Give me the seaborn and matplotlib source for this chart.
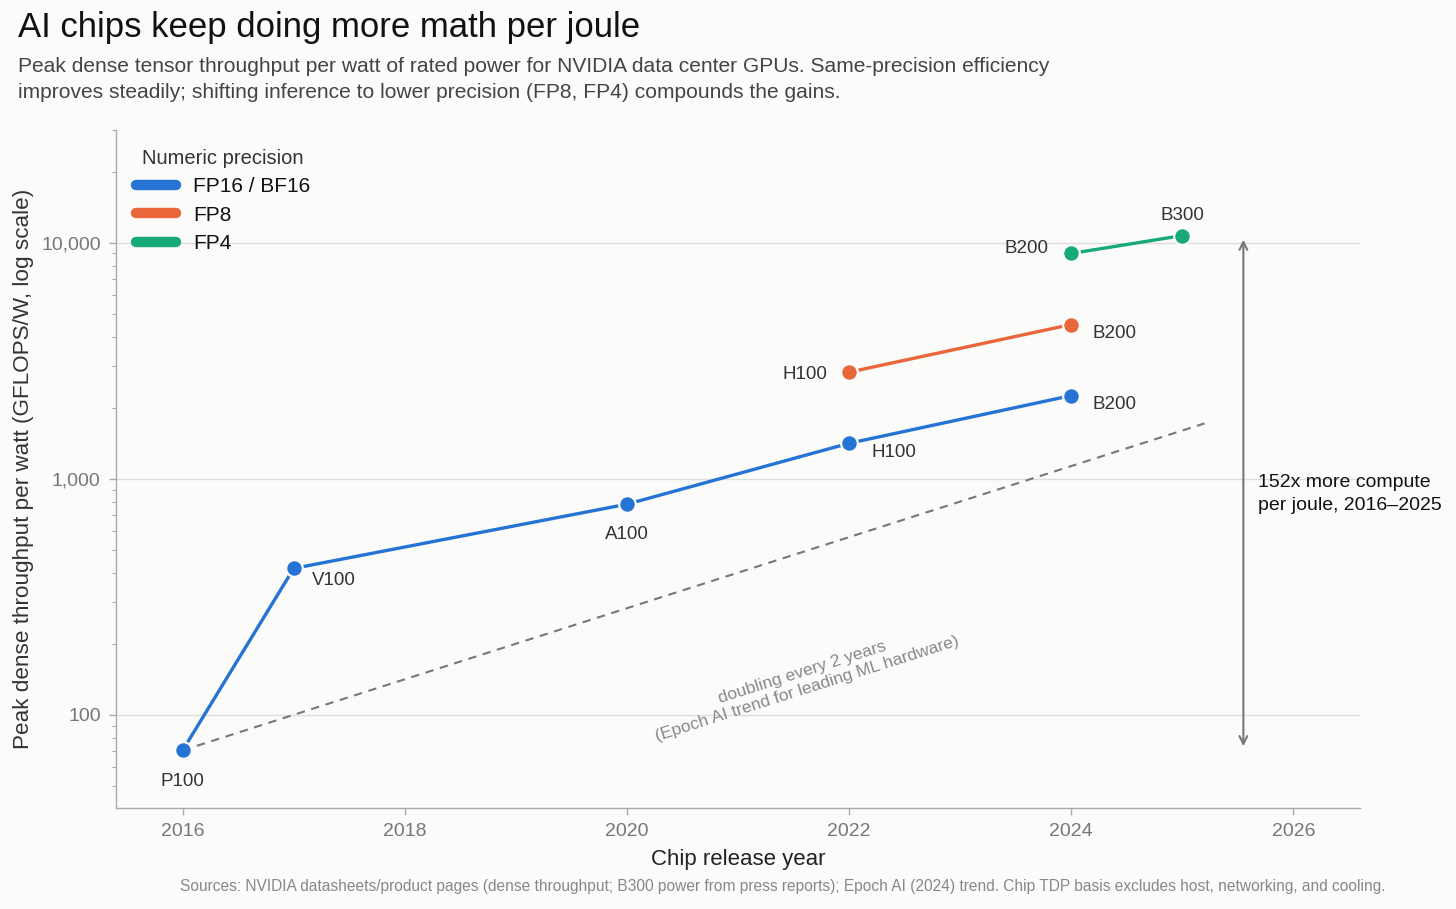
import numpy as np
import pandas as pd
import seaborn as sns
import matplotlib
matplotlib.use("Agg")
import matplotlib.pyplot as plt
from matplotlib.lines import Line2D
import matplotlib.ticker as mticker

# ---------------- data ----------------
precisions = ["FP16 / BF16", "FP8", "FP4"]

years_fp16 = [2016, 2017, 2020, 2022, 2024]
chips_fp16 = ["P100", "V100", "A100", "H100", "B200"]
vals_fp16 = [70.7, 417, 780, 1413, 2250]

years_fp8 = [2022, 2024]
chips_fp8 = ["H100", "B200"]
vals_fp8 = [2827, 4500]

years_fp4 = [2024, 2025]
chips_fp4 = ["B200", "B300"]
vals_fp4 = [9000, 10714]

trend_years = [2016, 2025.2]
trend_vals = [70.7, 1715]

x_ticks = [2016, 2018, 2020, 2022, 2024, 2026]
y_ticks = [100, 1000, 10000]
y_tick_labels = ["100", "1,000", "10,000"]

# ---------------- style ----------------
BG = "#fbfbf9"
colors = ["#2573d5", "#e9653a", "#17a978"]
sns.set_theme(style="white")
plt.rcParams["font.family"] = ["Liberation Sans", "DejaVu Sans"]

df = pd.concat([
    pd.DataFrame({"year": years_fp16, "value": vals_fp16, "chip": chips_fp16, "precision": precisions[0]}),
    pd.DataFrame({"year": years_fp8, "value": vals_fp8, "chip": chips_fp8, "precision": precisions[1]}),
    pd.DataFrame({"year": years_fp4, "value": vals_fp4, "chip": chips_fp4, "precision": precisions[2]}),
], ignore_index=True)

fig = plt.figure(figsize=(14.56, 9.09), dpi=100, facecolor=BG)
ax = fig.add_axes([116/1456, 1-808/909, (1360-116)/1456, (808-130)/909])
ax.set_facecolor(BG)

# trend line
ax.plot(trend_years, trend_vals, ls=(0, (4, 3.2)), color="#777777", lw=1.5, zorder=2)

sns.lineplot(data=df, x="year", y="value", hue="precision", hue_order=precisions,
             palette=colors, marker="o", markersize=12, markeredgecolor=BG,
             markeredgewidth=1.6, linewidth=2.4, legend=False, ax=ax, zorder=3,
             sort=True, estimator=None)

ax.set_yscale("log")
ax.set_xlim(2015.4, 2026.6)
ax.set_ylim(40.3, 30000)

# chip labels (offsets in pixels)
label_style = {
    ("FP16 / BF16", "P100"): (0, -31, "center"),
    ("FP16 / BF16", "V100"): (18, -12, "left"),
    ("FP16 / BF16", "A100"): (0, -30, "center"),
    ("FP16 / BF16", "H100"): (22, -9, "left"),
    ("FP16 / BF16", "B200"): (21, -9, "left"),
    ("FP8", "H100"): (-22, -2, "right"),
    ("FP8", "B200"): (21, -9, "left"),
    ("FP4", "B200"): (-23, 5, "right"),
    ("FP4", "B300"): (0, 20, "center"),
}
for _, r in df.iterrows():
    dx, dy, ha = label_style[(r["precision"], r["chip"])]
    ax.annotate(r["chip"], (r["year"], r["value"]), xytext=(dx, dy),
                textcoords="offset pixels", ha=ha, va="center",
                fontsize=13.5, color="#333333")

# trend annotation
ax.text(2021.6, 140, "doubling every 2 years\n(Epoch AI trend for leading ML hardware)",
        rotation=17.6, ha="center", va="center", fontsize=12.5, color="#888888",
        multialignment="center", rotation_mode="anchor")

# gain arrow
ax.annotate("", xy=(2025.55, vals_fp4[-1]), xytext=(2025.55, vals_fp16[0]),
            arrowprops=dict(arrowstyle="<->", color="#777777", lw=1.5,
                            shrinkA=3, shrinkB=3, mutation_scale=14))
ratio = vals_fp4[-1] / vals_fp16[0]
ax.text(2025.68, 862, f"{ratio:.0f}x more compute\nper joule, 2016\u20132025",
        ha="left", va="center", fontsize=14, color="#111111", linespacing=1.4)

# axes styling
ax.set_xticks(x_ticks)
ax.set_xticklabels([str(t) for t in x_ticks])
ax.set_yticks(y_ticks)
ax.set_yticklabels(y_tick_labels)
ax.yaxis.set_minor_locator(mticker.LogLocator(base=10, subs=np.arange(2, 10)))
ax.yaxis.set_minor_formatter(mticker.NullFormatter())
ax.tick_params(axis="both", which="major", length=5, width=1, color="#aaaaaa",
               labelsize=14, labelcolor="#777777", pad=6)
ax.tick_params(axis="y", which="minor", length=3, width=0.8, color="#aaaaaa", left=True)
ax.tick_params(axis="x", bottom=True)
ax.tick_params(axis="y", left=True)
ax.grid(False)
ax.yaxis.grid(True, which="major", color="#dddddd", lw=1)
ax.set_axisbelow(True)
for s in ["top", "right"]:
    ax.spines[s].set_visible(False)
for s in ["left", "bottom"]:
    ax.spines[s].set_color("#aaaaaa")
    ax.spines[s].set_linewidth(1)

ax.set_xlabel("Chip release year", fontsize=16, color="#222222", labelpad=6)
ax.set_ylabel("Peak dense throughput per watt (GFLOPS/W, log scale)", fontsize=16.2,
              color="#333333", labelpad=5)

# legend
handles = [Line2D([0], [0], color=c, lw=7.5, solid_capstyle="round") for c in colors]
leg = ax.legend(handles, precisions, title="Numeric precision", loc="upper left",
                bbox_to_anchor=(0.004, 0.993), frameon=False, fontsize=15,
                title_fontsize=14.5, handlelength=1.95, handletextpad=0.8,
                labelspacing=0.44, borderaxespad=0.3)
leg.get_title().set_color("#333333")
for t in leg.get_texts():
    t.set_color("#111111")

# titles and footer
fig.text(18/1456, 1-28/909, "AI chips keep doing more math per joule", fontsize=25,
         color="#111111", ha="left", va="center")
fig.text(18/1456, 1-67/909, "Peak dense tensor throughput per watt of rated power for NVIDIA data center GPUs. Same-precision efficiency",
         fontsize=15.1, color="#444444", ha="left", va="center")
fig.text(18/1456, 1-93/909, "improves steadily; shifting inference to lower precision (FP8, FP4) compounds the gains.",
         fontsize=15.1, color="#444444", ha="left", va="center")
fig.text(180/1456, 1-887/909, "Sources: NVIDIA datasheets/product pages (dense throughput; B300 power from press reports); Epoch AI (2024) trend. Chip TDP basis excludes host, networking, and cooling.",
         fontsize=11.2, color="#888888", ha="left", va="center")

fig.savefig("out.png", dpi=100, facecolor=BG)
